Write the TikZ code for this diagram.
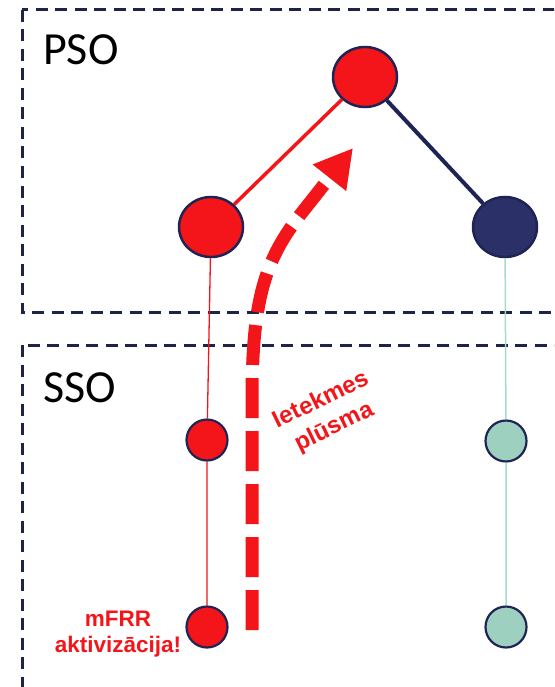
\documentclass[tikz,border=0pt]{standalone}
\usepackage{fontspec}
\usepackage{tikz}
\usetikzlibrary{shapes.geometric,arrows.meta}
\setmainfont{Carlito}
\setsansfont{Liberation Sans}
\definecolor{psored}{HTML}{F31519}
\definecolor{navyline}{HTML}{1F2454}
\definecolor{navyfill}{HTML}{2B3068}
\definecolor{boxline}{HTML}{1E2448}
\definecolor{tealfill}{HTML}{9DD0BE}
\definecolor{tealline}{HTML}{A6DBC9}
\tikzstyle{bigred}=[ellipse,draw=navyline,fill=psored,line width=2.5pt,
                    minimum width=64pt,minimum height=60pt,inner sep=0pt]
\tikzstyle{bignavy}=[bigred,fill=navyfill]
\tikzstyle{smallred}=[circle,draw=navyline,fill=psored,line width=2.2pt,
                      inner sep=0pt,minimum size=41pt]
\tikzstyle{smallteal}=[smallred,fill=tealfill]
\tikzstyle{zone}=[draw=boxline,line width=3pt,dash pattern=on 12pt off 7.5pt]
\tikzstyle{zonelabel}=[font=\fontsize{46}{46}\selectfont,anchor=base west,inner sep=0pt]
\tikzstyle{redlabel}=[font=\sffamily\bfseries\fontsize{22.5}{26}\selectfont,
                      text=psored,align=center,inner sep=0pt]
\tikzstyle{flow}=[draw=psored,line width=13pt,dash pattern=on 40pt off 13pt,
                  -{Triangle[length=38pt,width=40pt]}]

\begin{document}
\begin{tikzpicture}[x=1pt,y=-1pt]
    \useasboundingbox (0,0) rectangle (554,687);
    \clip (0,0) rectangle (554,687);
    % the two operator levels
    \draw[zone] (22,10) rectangle (620,312);
    \draw[zone] (22,345) rectangle (620,760);
    \node (pso) at (43,65) [zonelabel]{PSO};
    \node (sso) at (43,402) [zonelabel]{SSO};
    % grid
    \node (top) at (365,77) [bigred]{};
    \node (pl) at (211,227) [bigred]{};
    \node (pr) at (505,227) [bignavy]{};
    \node (sl1) at (207,440) [smallred]{};
    \node (sl2) at (207,627) [smallred]{};
    \node (sr1) at (506,441) [smallteal]{};
    \node (sr2) at (506,627) [smallteal]{};
    \draw[psored,line width=3.5pt] (top) -- (pl);
    \draw[navyline,line width=4pt] (top) -- (pr);
    \draw[psored,line width=1.3pt] (pl) -- (sl1) -- (sl2);
    \draw[tealline,line width=1.5pt] (pr) -- (sr1) -- (sr2);
    % flow upwards
    \coordinate (fs) at (252,630);
    \coordinate (ft) at (353,148);
    \draw[flow] (fs) -- (252,400) .. controls (252,300) and (265,260) .. (300,215) -- (ft);
    \node (flowlbl) at (328,414) [redlabel,rotate=26,
      font=\sffamily\bfseries\fontsize{24}{30}\selectfont]{Ietekmes\\plūsma};
    \node (mfrr) at (118,634) [redlabel]{mFRR\\aktivizācija!};
  \end{tikzpicture}
\end{document}
